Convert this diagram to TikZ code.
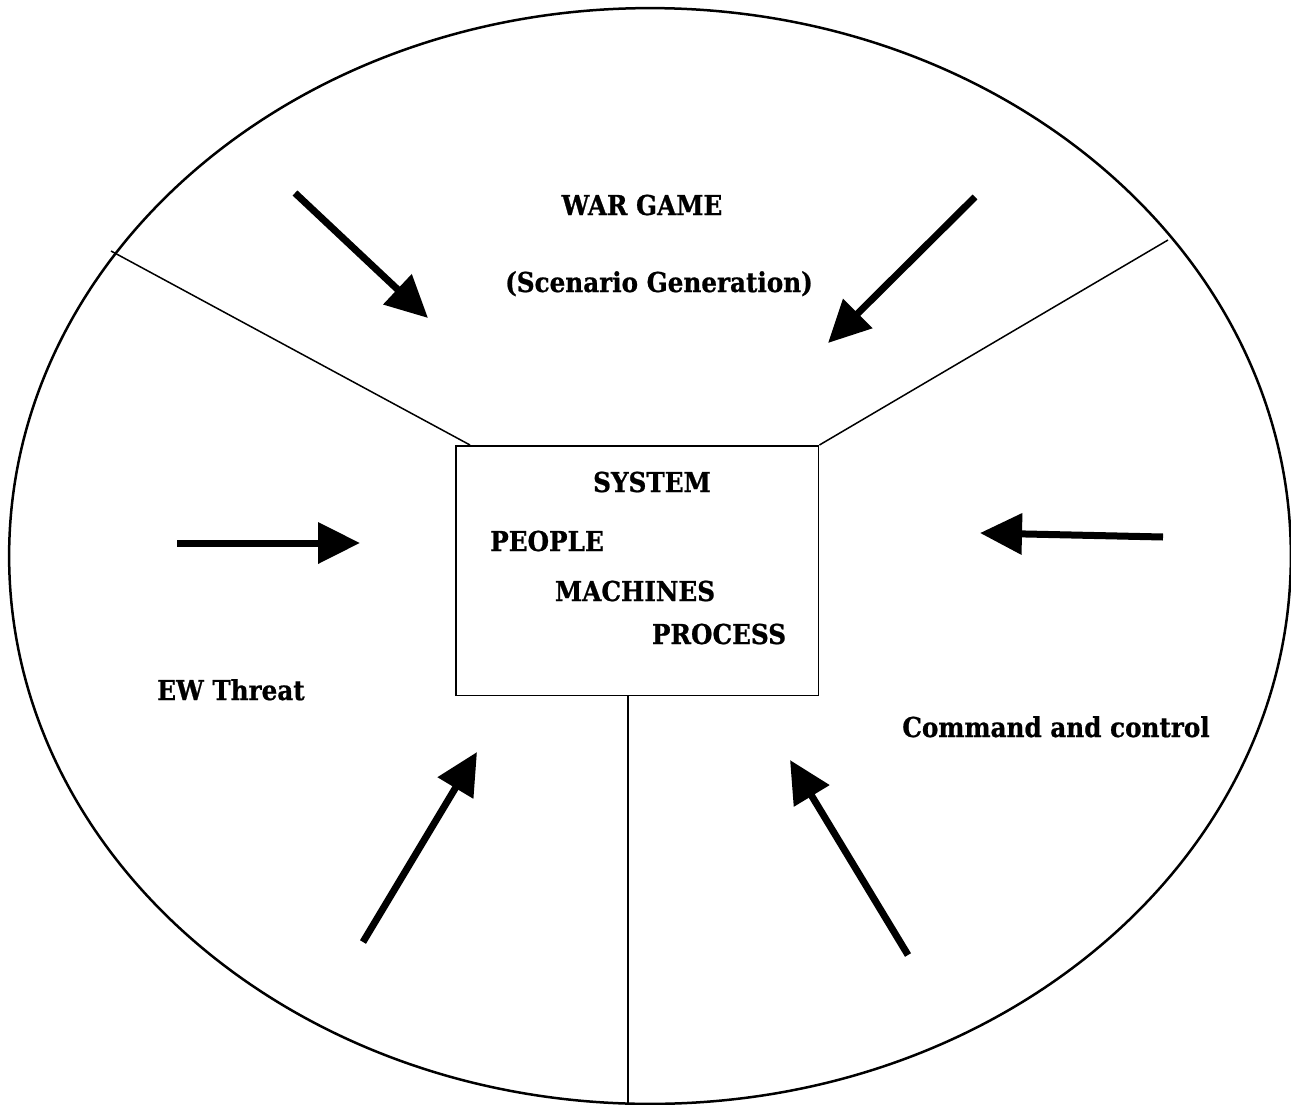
\documentclass[tikz,border=0pt]{standalone}
\usepackage{fontspec}
\setmainfont{DejaVu Serif}[BoldFeatures={FakeStretch=0.9,FakeBold=0.8}]
\usetikzlibrary{arrows.meta}
\newcommand{\lblfont}{\fontsize{15.6}{18}\selectfont\bfseries}
\tikzset{
  lbl/.style={font=\lblfont, inner sep=0pt, anchor=base},
  bigarrow/.style={line width=0.14cm, -{Triangle[length=0.84cm,width=0.8cm]}},
  divider/.style={line width=0.03cm},
  outline/.style={line width=0.05cm},
  sysbox/.style={draw, line width=0.03cm, minimum width=7.26cm, minimum height=5cm, inner sep=0pt, anchor=north west}
}
\begin{document}
\begin{tikzpicture}[x=0.02cm,y=-0.02cm]
\useasboundingbox (0,0) rectangle (1291,1105);
% outer ellipse
\draw[outline] (650,556) ellipse [x radius=12.82cm, y radius=10.96cm];
% central box
\node[sysbox] (sys) at (455,445) {};
% dividers
\coordinate (ulend) at (111,251);
\coordinate (ulbox) at (470,445);
\coordinate (urend) at (1168,240);
\coordinate (bend) at (628,1105);
\coordinate (bbox) at (628,695);
\draw[divider] (ulend) -- (ulbox);
\draw[divider] (urend) -- (sys.north east);
\draw[divider] (bbox) -- (bend);
% arrows
\coordinate (a1t) at (295,193); \coordinate (a1h) at (428,318);
\coordinate (a2t) at (975,197); \coordinate (a2h) at (828,343);
\coordinate (a3t) at (177,543); \coordinate (a3h) at (360,543);
\coordinate (a4t) at (1163,537); \coordinate (a4h) at (980,533);
\coordinate (a5t) at (363,942); \coordinate (a5h) at (477,752);
\coordinate (a6t) at (908,955); \coordinate (a6h) at (790,760);
\draw[bigarrow] (a1t) -- (a1h);
\draw[bigarrow] (a2t) -- (a2h);
\draw[bigarrow] (a3t) -- (a3h);
\draw[bigarrow] (a4t) -- (a4h);
\draw[bigarrow] (a5t) -- (a5h);
\draw[bigarrow] (a6t) -- (a6h);
% labels
\node[lbl] (war) at (642,215) {WAR GAME};
\node[lbl] (scen) at (659,292) {(Scenario Generation)};
\node[lbl] (system) at (652,492) {SYSTEM};
\node[lbl] (people) at (547,551) {PEOPLE};
\node[lbl] (mach) at (635,601) {MACHINES};
\node[lbl] (proc) at (719,644) {PROCESS};
\node[lbl] (ew) at (231,700) {EW Threat};
\node[lbl] (cc) at (1056,737) {Command and control};
\end{tikzpicture}
\end{document}
